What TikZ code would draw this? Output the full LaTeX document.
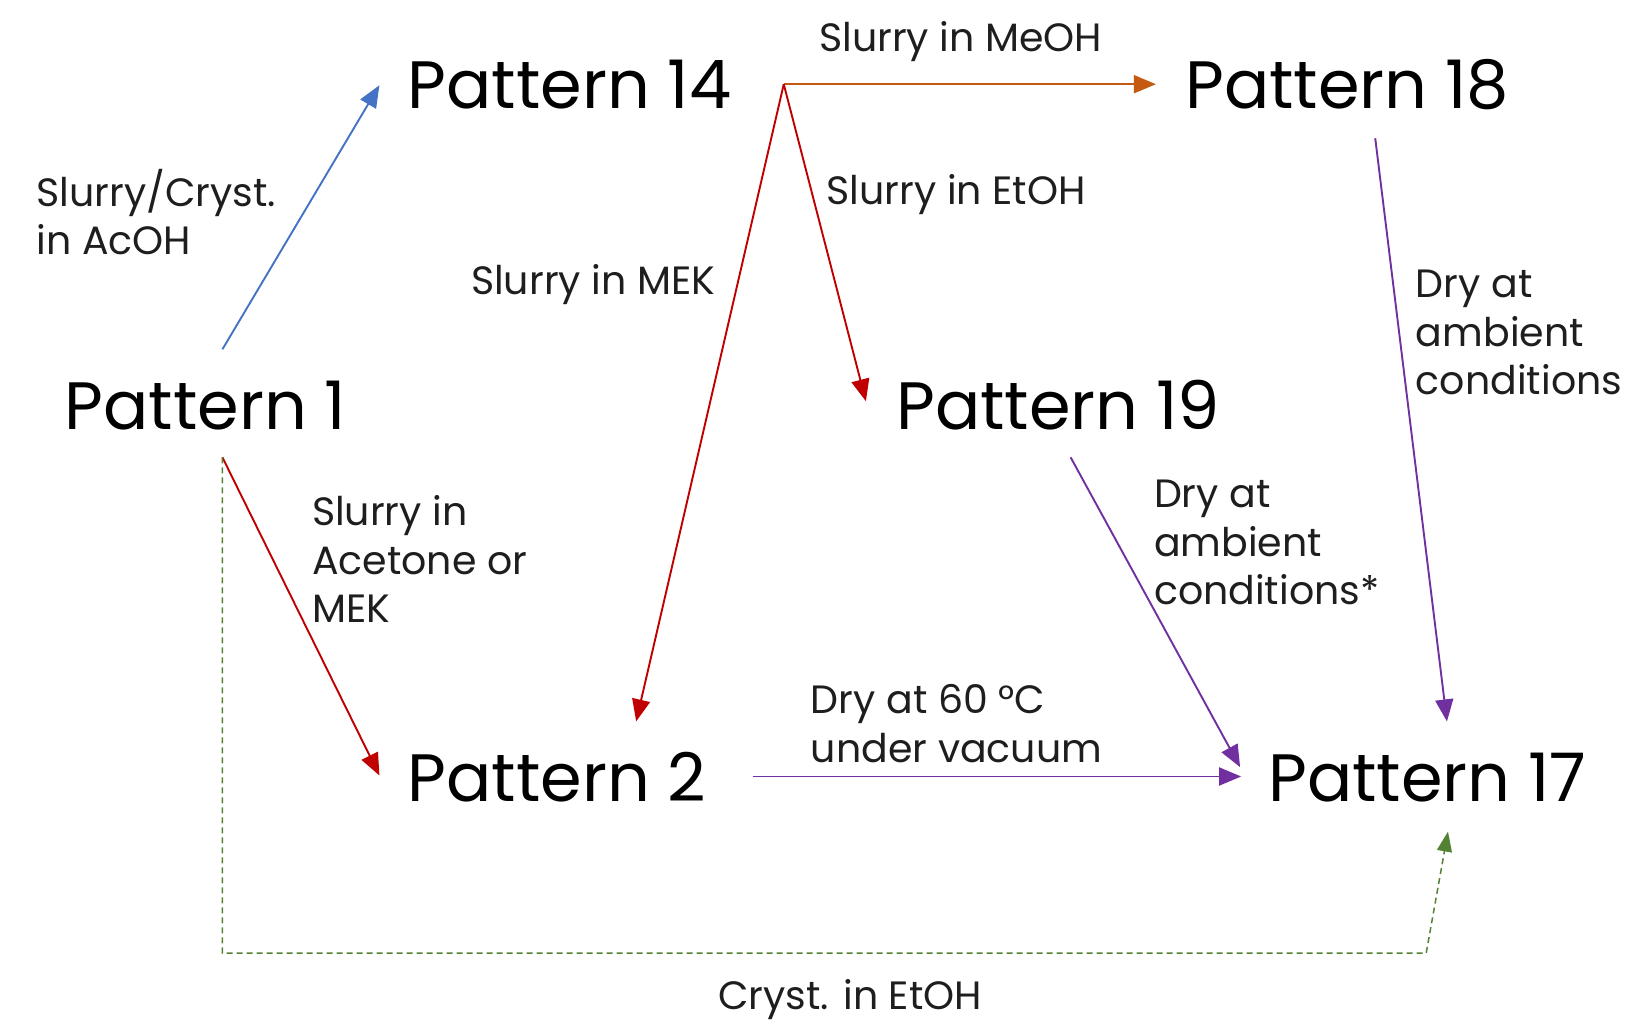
\documentclass[tikz,border=0pt]{standalone}
\usepackage{fontspec}
\setmainfont{Poppins}
\usetikzlibrary{arrows.meta}
\definecolor{cblue}{RGB}{68,114,196}
\definecolor{corange}{RGB}{197,90,17}
\definecolor{cred}{RGB}{192,0,0}
\definecolor{cpurple}{RGB}{112,48,160}
\definecolor{cgreen}{RGB}{84,130,53}
\definecolor{ctext}{RGB}{30,30,30}
\begin{document}
\begin{tikzpicture}[x=1.0395pt,y=-1.0395pt,
  pat/.style={font=\fontsize{67}{72}\selectfont, inner sep=0pt, anchor=west, text=black},
  lab/.style={font=\fontsize{39.5}{48.5}\selectfont, inner sep=0pt, anchor=west, align=left, text=ctext},
  conn/.style={line width=1.9pt, -{Triangle[length=22pt,width=18pt]}},
]
\useasboundingbox (0,0) rectangle (1568.1,982.2);
% pattern nodes
\node[pat] (p14) at (392,81) {Pattern 14};
\node[pat] (p18) at (1140,81) {Pattern 18};
\node[pat] (p1)  at (62,390) {Pattern 1};
\node[pat] (p19) at (862,390) {Pattern 19};
\node[pat] (p2)  at (392,748) {Pattern 2};
\node[pat] (p17) at (1220,748) {Pattern 17};
% connector end points
\coordinate (p1top) at (214,336);
\coordinate (p1bot) at (214,440);
\coordinate (p14in) at (365,82);
\coordinate (p14out) at (754,81);
\coordinate (p18in) at (1112,81);
\coordinate (p18out) at (1323,133);
\coordinate (p19in) at (833,386);
\coordinate (p19out) at (1030,440);
\coordinate (p2in) at (365,746);
\coordinate (p2top) at (612,694);
\coordinate (p2out) at (724,747);
\coordinate (p17left) at (1194,747);
\coordinate (p17ul) at (1193,738);
\coordinate (p17top) at (1392,694);
\coordinate (p17bot) at (1393,800);
\coordinate (g1) at (214,917);
\coordinate (g2) at (1372,917);
% connectors
\draw[conn, cblue] (p1top) -- (p14in);
\draw[conn, corange] (p14out) -- (p18in);
\draw[conn, cred] (p14out) -- (p19in);
\draw[conn, cred] (p14out) -- (p2top);
\draw[conn, cred] (p1bot) -- (p2in);
\draw[conn, cpurple] (p2out) -- (p17left);
\draw[conn, cpurple] (p19out) -- (p17ul);
\draw[conn, cpurple] (p18out) -- (p17top);
\draw[cgreen, line width=1.5pt, dash pattern=on 6pt off 4pt, -{Triangle[length=20pt,width=15pt]}] (p1bot) -- (g1) -- (g2) -- (p17bot);
% labels
\node[lab] (l1) at (35,204) {Slurry/Cryst.\\in AcOH};
\node[lab] (l2) at (788,40) {Slurry in MeOH};
\node[lab] (l3) at (795,187) {Slurry in EtOH};
\node[lab] (l4) at (453,274) {Slurry in MEK};
\node[lab] (l5) at (300,538) {Slurry in\\Acetone or\\MEK};
\node[lab] (l6) at (1362,320) {Dry at\\ambient\\conditions};
\node[lab] (l7) at (1110,522) {Dry at\\ambient\\conditions*};
\node[lab] (l8) at (780,696) {Dry at 60 °C\\under vacuum};
\node[lab] (l9) at (691,962) {Cryst. in EtOH};
\end{tikzpicture}
\end{document}
